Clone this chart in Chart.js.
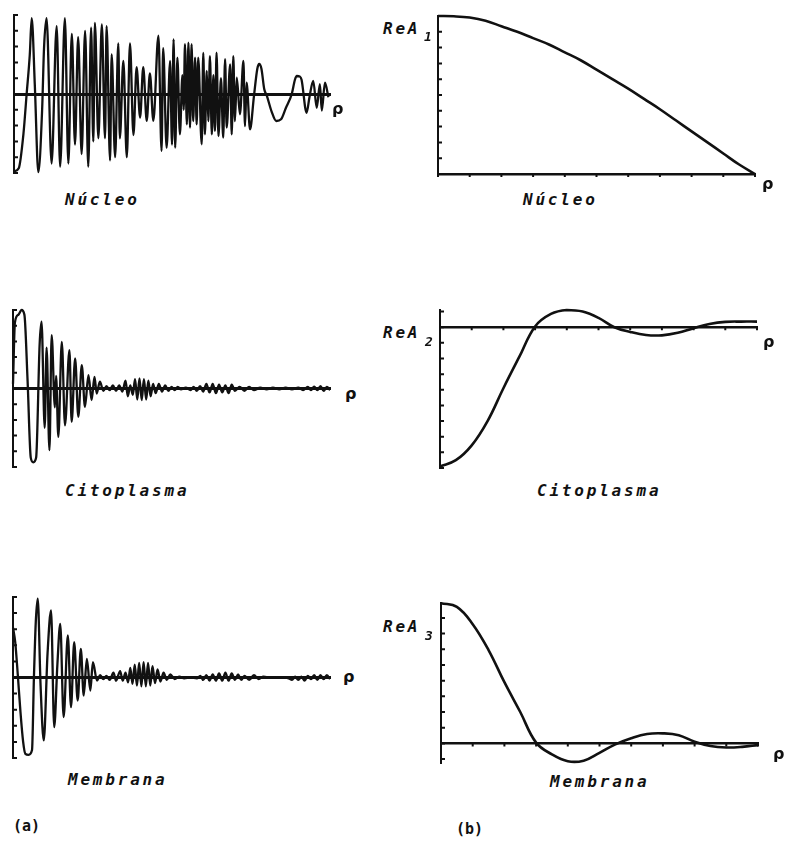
<!DOCTYPE html>
<html>
<head>
<meta charset="utf-8">
<script src="https://cdn.jsdelivr.net/npm/chart.js@4.4.0/dist/chart.umd.min.js"></script>
<style>
    body { margin: 0; background: #fff; width: 788px; height: 841px; position: relative; overflow: hidden; }
    .panel { position: absolute; }
    .lbl { position: absolute; font-family: "DejaVu Sans Mono"; font-weight: bold; font-style: italic; font-size: 16px;
           color: #111; line-height: 1; white-space: nowrap; letter-spacing: 2.8px; }
    .sub { font-size: 13px; letter-spacing: 0; }
    .rho { position: absolute; font-family: "DejaVu Sans"; font-weight: bold; font-size: 16px; color: #111; line-height: 1; }
    .tag { position: absolute; font-family: "DejaVu Sans Mono"; font-weight: bold; font-size: 15px; color: #111; line-height: 1; }
</style>
</head>
<body>

<div class="panel" id="p1"><canvas id="c1"></canvas></div>
<div class="panel" id="p2"><canvas id="c2"></canvas></div>
<div class="panel" id="p3"><canvas id="c3"></canvas></div>
<div class="panel" id="p4"><canvas id="c4"></canvas></div>
<div class="panel" id="p5"><canvas id="c5"></canvas></div>
<div class="panel" id="p6"><canvas id="c6"></canvas></div>

<span class="lbl" style="left:65px; top:192px;">Núcleo</span>
<span class="lbl" style="left:523px; top:192px;">Núcleo</span>
<span class="lbl" style="left:65px; top:483px;">Citoplasma</span>
<span class="lbl" style="left:537px; top:483px;">Citoplasma</span>
<span class="lbl" style="left:68px; top:772px;">Membrana</span>
<span class="lbl" style="left:550px; top:774px;">Membrana</span>

<span class="lbl" style="left:383px; top:21px;">ReA</span><span class="lbl sub" style="left:424px; top:30px;">1</span>
<span class="lbl" style="left:383px; top:325px;">ReA</span><span class="lbl sub" style="left:425px; top:335px;">2</span>
<span class="lbl" style="left:383px; top:619px;">ReA</span><span class="lbl sub" style="left:425px; top:629px;">3</span>

<span class="rho" style="left:332px; top:101px;">ρ</span>
<span class="rho" style="left:345px; top:386px;">ρ</span>
<span class="rho" style="left:343px; top:669px;">ρ</span>
<span class="rho" style="left:762px; top:176px;">ρ</span>
<span class="rho" style="left:763px; top:334px;">ρ</span>
<span class="rho" style="left:773px; top:746px;">ρ</span>

<span class="tag" style="left:13px; top:819px;">(a)</span>
<span class="tag" style="left:456px; top:822px;">(b)</span>

<script>
// (a) signals, [rho, value] pairs (rho 0..100, value -5..5)
var nucleoSignal = [
    [0, -4.9], [1.5, -4.7], [3.0, -2.5], [4.0, 0], [5.0, 2.5], [5.6, 4.8], [6.6, 0.5], [7.7, -4.95],
    [8.9, -1.0], [9.5, 2.9], [10.3, 4.8], [11.9, -4.4], [13.5, 4.3], [14.6, -4.6], [16.1, 4.8], [17.2, -4.4],
    [18.3, 3.8], [19.3, -3.2], [20.3, 3.6], [21.4, -3.8], [22.5, 4.0], [23.5, -4.6], [24.4, 4.2], [25.1, -3.0],
    [25.6, 4.5], [26.7, -2.8], [27.8, 4.4], [28.8, -2.8], [29.3, 4.3], [30.4, -4.2], [30.9, 2.5], [32.0, -4.0],
    [33.0, 3.2], [33.5, -2.8], [34.6, 2.1], [35.7, -4.0], [36.7, 3.2], [37.8, -2.6], [38.8, 1.7], [39.9, -1.5],
    [40.9, 1.7], [42.0, -1.7], [43.0, 1.3], [44.1, -1.7], [45.7, 3.7], [46.7, -3.6], [47.2, 2.9], [48.3, -3.4],
    [49.4, 2.1], [50.0, -3.2], [50.5, 3.46], [51.0, -3.4], [51.7, 2.3], [52.5, -2.55], [53.3, 1.2], [53.7, -1.0],
    [54.1, 3.15], [54.7, -1.92], [55.2, 3.25], [55.7, -2.13], [56.2, 3.15], [56.7, -1.71], [57.3, 2.3], [57.8, -1.92],
    [58.3, 2.3], [59.4, -3.18], [59.9, 2.6], [60.4, -2.55], [61.0, 1.46], [61.5, -1.71], [62.0, 2.4], [62.6, -2.55],
    [63.1, 1.2], [63.6, -2.34], [64.1, 2.62], [64.7, -2.66], [65.5, 1.0], [66.2, -2.76], [66.8, 2.2], [67.3, -2.13],
    [68.4, 1.88], [68.9, -2.55], [69.4, 2.4], [69.9, -1.71], [70.5, 1.03], [71.5, -1.29], [72.6, 2.09], [73.1, -2.03],
    [73.6, 0.72], [74.7, -2.24], [75.9, -0.2], [77.0, 1.6], [77.6, 1.9], [78.3, 1.6], [79.2, 0.3], [80.0, -0.1],
    [81.5, -1.1], [83.0, -1.71], [84.5, -1.6], [86.0, -0.9], [87.9, 0], [88.9, 0.9], [89.5, 1.14], [90.5, 1.1],
    [91.0, 0.9], [92.6, -1.19], [93.5, -0.2], [94.7, 0.83], [95.8, -0.87], [96.8, 0.63], [97.4, -1.05], [98.4, 0.72],
    [99.5, -0.21]
];

var citoSignal = [
    [0, 0.3], [0.6, 4.2], [1.7, 4.7], [2.7, 5.0], [3.6, 4.7], [4.6, 0.5], [5.6, -4.4], [6.4, -4.7],
    [7.3, -4.4], [8.4, 2.8], [9.0, 4.25], [10.0, -2.5], [10.6, 2.6], [11.5, -3.93], [12.2, 3.4], [13.2, -1.2],
    [13.6, 0.8], [14.3, -3.08], [15.4, 2.97], [16.4, -2.34], [17.8, 2.45], [18.5, -2.12], [19.6, 1.91], [20.6, -1.8],
    [21.7, 1.49], [22.7, -1.17], [23.8, 0.85], [24.8, -0.74], [25.7, 0.74], [26.4, -0.32], [27.4, 0.43], [28.5, -0.15],
    [29.5, 0.15], [30.5, -0.1], [31.5, 0.2], [32.5, -0.15], [33.5, 0.2], [34.5, -0.2], [35.5, 0.5], [36.2, -0.5],
    [37.0, 0.2], [37.8, -0.4], [38.5, 0.6], [39.2, -0.7], [39.9, 0.64], [40.6, -0.74], [41.3, 0.6], [42.0, -0.7],
    [42.7, 0.5], [43.4, -0.5], [44.2, 0.3], [45.0, -0.3], [46.0, 0.3], [47.0, -0.2], [48.0, 0.2], [49.0, -0.15],
    [50, 0.1], [51, -0.1], [52, 0.1], [53, -0.05], [54.5, 0.05], [56, -0.1], [57, 0.1], [58, -0.15],
    [59, 0.15], [60, -0.2], [61, 0.3], [62, -0.25], [63, 0.3], [64, -0.3], [65, 0.25], [66, -0.25],
    [67, 0.2], [68, -0.3], [69, 0.25], [70, -0.15], [71.5, 0.1], [73, -0.15], [74.5, 0.1], [76, -0.1],
    [78, 0.05], [80, -0.05], [82, 0.05], [84, -0.05], [86, 0.05], [88, -0.05], [90, 0.05], [91.5, -0.1],
    [93, 0.1], [94, -0.1], [95, 0.12], [96, -0.1], [97, 0.15], [98, -0.15], [99, 0.1], [100, -0.1]
];

var membSignal = [
    [0, 3.1], [0.7, 2.2], [1.5, 0.2], [2.3, -2.0], [3.2, -4.0], [3.9, -4.74], [4.9, -4.8], [6.0, -4.5],
    [6.6, 0], [7.2, 3.5], [7.8, 4.9], [8.7, -0.5], [9.7, -3.91], [10.9, 1.5], [12.0, 4.16], [13.0, -3.08],
    [14.0, 0.8], [14.9, 3.33], [15.97, -2.46], [17.3, 2.61], [18.3, -1.84], [19.3, 2.2], [20.4, -1.43], [21.4, 1.78],
    [22.3, -1.12], [23.3, 1.16], [24.4, -0.81], [25.2, 0.95], [26.5, -0.19], [27.5, 0.15], [28.5, -0.1], [29.5, 0.1],
    [30.5, -0.15], [31.7, 0.3], [32.5, -0.2], [33.8, 0.4], [34.6, -0.2], [35.5, 0.3], [36.3, -0.3], [37.0, 0.6],
    [37.7, -0.4], [38.4, 0.8], [39.1, -0.5], [39.8, 0.9], [40.5, -0.55], [41.2, 0.95], [41.9, -0.55], [42.6, 0.9],
    [43.3, -0.5], [44.0, 0.7], [44.8, -0.35], [45.6, 0.5], [46.5, -0.25], [47.5, 0.3], [48.5, -0.15], [49.6, 0.2],
    [51, -0.1], [52.5, 0.05], [54, -0.05], [56, 0.0], [58, -0.05], [59.1, 0.1], [60, -0.15], [61, 0.15],
    [62, -0.2], [63, 0.2], [64, -0.2], [65, 0.25], [66, -0.2], [67, 0.3], [68, -0.2], [69, 0.25],
    [70, -0.15], [71, 0.2], [72, -0.15], [73, 0.1], [74.5, -0.15], [76, 0.15], [77.5, -0.1], [79, 0.05],
    [81, 0], [83, 0.02], [85, 0], [87, -0.05], [88, -0.15], [89, 0.05], [90, -0.15], [91, 0.05],
    [92, -0.2], [93, 0.1], [94, -0.1], [95, 0.15], [96, -0.15], [97, 0.15], [98, -0.1], [99, 0.15],
    [100, -0.1]
];

// (b) real parts, sampled every 0.5 in rho (0..10)
var rhoB = [0, 0.5, 1, 1.5, 2, 2.5, 3, 3.5, 4, 4.5, 5, 5.5, 6, 6.5, 7, 7.5, 8, 8.5, 9, 9.5, 10];
var reA1 = [10, 9.98, 9.9, 9.7, 9.35, 9.0, 8.6, 8.2, 7.7, 7.2, 6.6, 6.0, 5.4, 4.75, 4.1, 3.4, 2.7, 2.0, 1.3, 0.6, 0];
var reA2 = [-8.9, -8.5, -7.55, -6.0, -3.9, -1.9, 0.05, 0.85, 1.1, 1.0, 0.6, 0.0, -0.3, -0.5, -0.52, -0.36, -0.06, 0.2, 0.34, 0.36, 0.36];
var reA3 = [8.94, 8.7, 7.6, 5.95, 3.9, 2.0, 0.05, -0.7, -1.14, -1.1, -0.6, -0.06, 0.33, 0.6, 0.64, 0.52, 0.1, -0.17, -0.26, -0.22, -0.11];

function pairs(xs, ys) {
    var out = [];
    for (var i = 0; i < xs.length; i++) out.push({x: xs[i], y: ys[i]});
    return out;
}

// short tick marks pointing into the plot, like the plotter drew them
var innerTicks = {
    id: 'innerTicks',
    afterDatasetsDraw: function(chart, args, opts) {
        var ctx = chart.ctx, xs = chart.scales.x, ys = chart.scales.y;
        var left = chart.chartArea.left;
        var y0 = ys.getPixelForValue(0);
        ctx.save();
        ctx.strokeStyle = '#111';
        ctx.lineWidth = 2;
        ctx.beginPath();
        for (var v = Math.ceil(ys.min); v <= ys.max + 1e-9; v += 1) {
            var py = ys.getPixelForValue(v);
            ctx.moveTo(left, py);
            ctx.lineTo(left + 4, py);
        }
        if (opts.xStep) {
            for (var u = xs.min; u <= xs.max + 1e-9; u += opts.xStep) {
                var px = xs.getPixelForValue(u);
                ctx.moveTo(px, y0);
                ctx.lineTo(px, y0 + 3);
            }
        }
        ctx.stroke();
        ctx.restore();
    }
};

var PAD = 8;

function makePanel(n, box, points, xr, yr, opt) {
    var div = document.getElementById('p' + n);
    div.style.left = (box[0] - PAD) + 'px';
    div.style.top = (box[1] - PAD) + 'px';
    div.style.width = (box[2] - box[0] + 2 * PAD) + 'px';
    div.style.height = (box[3] - box[1] + 2 * PAD) + 'px';
    var ds = {
        data: points,
        borderColor: '#111',
        borderWidth: opt.lw,
        pointRadius: 0,
        fill: false,
        clip: false
    };
    if (opt.smooth) {
        ds.tension = 0.4;
    } else {
        ds.cubicInterpolationMode = 'monotone';
    }
    return new Chart(document.getElementById('c' + n), {
        type: 'line',
        data: { datasets: [ds] },
        options: {
            responsive: true,
            maintainAspectRatio: false,
            devicePixelRatio: 1,
            animation: false,
            layout: { padding: PAD },
            plugins: {
                legend: { display: false },
                tooltip: { enabled: false },
                innerTicks: { xStep: opt.xStep }
            },
            scales: {
                x: {
                    type: 'linear', min: xr[0], max: xr[1], position: { y: 0 },
                    grid: { display: false, drawTicks: false },
                    border: { display: true, color: '#111', width: opt.axisW },
                    ticks: { display: false }
                },
                y: {
                    type: 'linear', min: yr[0], max: yr[1],
                    grid: { display: false, drawTicks: false },
                    border: { display: true, color: '#111', width: 2 },
                    ticks: { display: false }
                }
            }
        },
        plugins: [innerTicks]
    });
}

makePanel(1, [14, 15, 330, 173], nucleoSignal, [0, 100], [-5, 5], { lw: 2.3, axisW: 3, xStep: 0 });
makePanel(3, [13, 310, 330, 467], citoSignal, [0, 100], [-5, 5], { lw: 2.3, axisW: 3, xStep: 0 });
makePanel(5, [13, 597, 330, 758], membSignal, [0, 100], [-5, 5], { lw: 2.3, axisW: 3, xStep: 0 });

makePanel(2, [438, 16, 755, 174], pairs(rhoB, reA1), [0, 10], [0, 10], { lw: 2.6, axisW: 2.5, xStep: 1, smooth: true });
makePanel(4, [440, 310, 757, 468], pairs(rhoB, reA2), [0, 10], [-9, 1.1], { lw: 2.6, axisW: 2.5, xStep: 1, smooth: true });
makePanel(6, [441, 603, 758, 763], pairs(rhoB, reA3), [0, 10], [-1.25, 8.95], { lw: 2.6, axisW: 2.5, xStep: 1, smooth: true });
</script>
</body>
</html>
